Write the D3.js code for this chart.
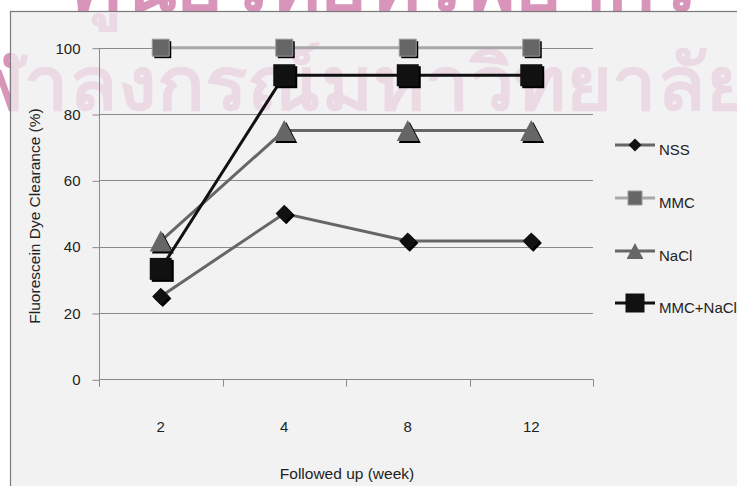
<!DOCTYPE html>
<html>
<head>
<meta charset="utf-8">
<script src="https://cdn.jsdelivr.net/npm/d3@7"></script>
<style>
  html, body { margin: 0; padding: 0; background: #ffffff; }
  svg { display: block; }
  text { font-family: "Liberation Sans", Arial, Helvetica, sans-serif; }
</style>
</head>
<body>
<svg id="chart" width="737" height="486"></svg>
<script>
// Follow-up weeks (categories)
const weeks = ["2", "4", "8", "12"];
// Fluorescein dye clearance (%) per group
const nss = [25, 50, 41.7, 41.7];
const mmc = [100, 100, 100, 100];
const nacl = [41.7, 75, 75, 75];
const mmcNacl = [33.3, 91.7, 91.7, 91.7];
const yTicks = [0, 20, 40, 60, 80, 100];

const seriesNames = ["NSS", "MMC", "NaCl", "MMC+NaCl"];
const seriesValues = [nss, mmc, nacl, mmcNacl];

// Watermark lines
const watermarkLines = ["ศูนย์วิทยทรัพยากร", "จุฬาลงกรณ์มหาวิทยาลัย"];

// Styling per series
const styles = {
  "NSS":      { line: "#666666", fill: "#111111", shape: "diamond", size: 12, legend: 9 },
  "MMC":      { line: "#a8a8a8", fill: "#666666", shape: "square",  size: 17, legend: 14, edge: "#9a9a9a" },
  "NaCl":     { line: "#666666", fill: "#666666", shape: "triangle", size: 21, legend: 16 },
  "MMC+NaCl": { line: "#111111", fill: "#111111", shape: "square",  size: 22, legend: 19 }
};

const svg = d3.select("#chart");
const defs = svg.append("defs");

// Watermark definition (full strength outside the frame, faded inside it)
const wmDef = defs.append("g").attr("id", "wm")
  .attr("font-family", "'Noto Sans Thai', 'Loma', 'Garuda', 'Norasi', 'Noto Sans', sans-serif")
  .attr("font-weight", "bold");
wmDef.append("text")
  .attr("transform", "translate(385,11) scale(1.05,1)")
  .attr("text-anchor", "middle")
  .attr("font-size", 76)
  .text(watermarkLines[0]);
wmDef.append("text")
  .attr("transform", "translate(752,110) scale(1.04,1)")
  .attr("text-anchor", "end")
  .attr("font-size", 76)
  .text(watermarkLines[1]);

svg.append("use").attr("href", "#wm").attr("fill", "#d994b9");

// Chart frame
svg.append("rect")
  .attr("x", 10.5).attr("y", 11.5)
  .attr("width", 740).attr("height", 490)
  .attr("fill", "#f2f2f2")
  .attr("stroke", "#7a7a7a").attr("stroke-width", 1.2);

defs.append("clipPath").attr("id", "frameClip")
  .append("rect").attr("x", 11).attr("y", 12).attr("width", 740).attr("height", 490);
svg.append("use").attr("href", "#wm").attr("fill", "#d994b9").attr("opacity", 0.26)
  .attr("clip-path", "url(#frameClip)");

const plot = { left: 99, right: 593, top: 47.7, bottom: 379.3 };

const x = d3.scaleBand().domain(weeks).range([plot.left, plot.right]);
const y = d3.scaleLinear().domain([0, 100]).range([plot.bottom, plot.top]);

// Horizontal gridlines
svg.append("g").selectAll("line")
  .data(yTicks.filter(d => d > 0))
  .join("line")
  .attr("x1", plot.left).attr("x2", plot.right)
  .attr("y1", d => Math.round(y(d)) + 0.5).attr("y2", d => Math.round(y(d)) + 0.5)
  .attr("stroke", "#8a8a8a").attr("stroke-width", 1);

// Y axis
const yAxis = svg.append("g")
  .attr("transform", `translate(${plot.left + 0.5},0.5)`)
  .call(d3.axisLeft(y).tickValues(yTicks).tickSize(7).tickPadding(12));
yAxis.select(".domain").attr("stroke", "#8a8a8a").attr("d", `M0,${plot.top}V${plot.bottom + 7}`);
yAxis.selectAll(".tick line").attr("stroke", "#8a8a8a");
yAxis.selectAll(".tick text")
  .attr("fill", "#222").attr("font-size", 15)
  .attr("font-family", "'Liberation Sans', Arial, sans-serif");

// X axis: ticks between categories
const xAxis = svg.append("g")
  .attr("transform", `translate(0.5,${Math.round(plot.bottom) + 0.5})`);
xAxis.append("line")
  .attr("x1", plot.left).attr("x2", plot.right)
  .attr("stroke", "#8a8a8a");
const boundaries = weeks.map(w => x(w)).concat([x(weeks[weeks.length - 1]) + x.bandwidth()]);
xAxis.selectAll("line.tk").data(boundaries).join("line")
  .attr("class", "tk")
  .attr("x1", d => Math.round(d)).attr("x2", d => Math.round(d))
  .attr("y1", 0).attr("y2", 7)
  .attr("stroke", "#8a8a8a");
svg.append("g").selectAll("text").data(weeks).join("text")
  .attr("x", d => x(d) + x.bandwidth() / 2)
  .attr("y", 432)
  .attr("text-anchor", "middle")
  .attr("font-size", 15).attr("fill", "#222")
  .text(d => d);

// Axis titles
svg.append("text")
  .attr("x", 347).attr("y", 479)
  .attr("text-anchor", "middle")
  .attr("font-size", 15.5).attr("fill", "#222")
  .text("Followed up (week)");
svg.append("text")
  .attr("transform", "translate(40,216) rotate(-90)")
  .attr("text-anchor", "middle")
  .attr("font-size", 15.5).attr("fill", "#222")
  .text("Fluorescein Dye Clearance (%)");

// Marker path generator
function markerPath(shape, s) {
  const h = s / 2;
  if (shape === "square") return `M${-h},${-h}H${h}V${h}H${-h}Z`;
  if (shape === "diamond") { const r = s * 0.72; return `M0,${-r}L${r},0L0,${r}L${-r},0Z`; }
  if (shape === "triangle") return `M0,${-h}L${h * 1.05},${h}L${-h * 1.05},${h}Z`;
}

function drawMarker(g, name, cx, cy) {
  const st = styles[name];
  const p = markerPath(st.shape, st.size);
  g.append("path").attr("d", p)
    .attr("transform", `translate(${cx + 2},${cy + 2})`)
    .attr("fill", "#000");
  g.append("path").attr("d", p)
    .attr("transform", `translate(${cx},${cy})`)
    .attr("fill", st.fill)
    .attr("stroke", st.edge || "none").attr("stroke-width", st.edge ? 1 : 0);
}

const line = d3.line()
  .x((d, i) => x(weeks[i]) + x.bandwidth() / 2)
  .y(d => y(d));

// Lines and markers, series by series
const drawOrder = ["MMC", "NaCl", "NSS", "MMC+NaCl"];
drawOrder.forEach(name => {
  const vals = seriesValues[seriesNames.indexOf(name)];
  svg.append("path")
    .datum(vals)
    .attr("d", line)
    .attr("fill", "none")
    .attr("stroke", styles[name].line)
    .attr("stroke-width", 3);
  const g = svg.append("g");
  vals.forEach((v, i) => drawMarker(g, name, x(weeks[i]) + x.bandwidth() / 2, y(v)));
});

// Legend
const legendY = [145, 198, 251, 303];
seriesNames.forEach((name, i) => {
  const g = svg.append("g");
  const ly = legendY[i];
  const st = styles[name];
  g.append("line")
    .attr("x1", 615).attr("x2", 655)
    .attr("y1", ly).attr("y2", ly)
    .attr("stroke", st.line).attr("stroke-width", 3);
  g.append("path")
    .attr("d", markerPath(st.shape, st.legend))
    .attr("transform", `translate(635,${ly})`)
    .attr("fill", st.fill)
    .attr("stroke", st.edge || "none");
  g.append("text")
    .attr("x", 659).attr("y", ly + 10)
    .attr("font-size", 15).attr("fill", "#222")
    .text(name);
});
</script>
</body>
</html>
